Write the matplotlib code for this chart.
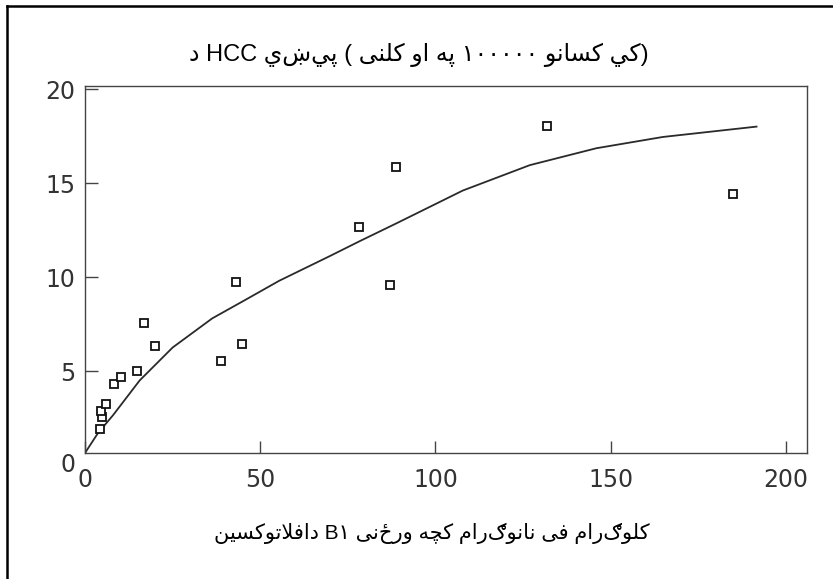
import matplotlib
matplotlib.use('Agg')
import matplotlib.pyplot as plt
from matplotlib import font_manager, ft2font
from matplotlib.lines import Line2D

# data
point_x = [4.2, 4.8, 4.5, 5.9, 8.3, 10.2, 14.9, 16.9, 20.0, 38.7, 43.2, 44.9, 78.1, 87.1, 88.8, 131.9, 184.8]
point_y = [1.9, 2.55, 2.85, 3.25, 4.3, 4.7, 5.0, 7.55, 6.35, 5.55, 9.75, 6.45, 12.65, 9.6, 15.85, 18.05, 14.4]

curve_x = [0, 3.7, 8.0, 15.6, 25.0, 36.3, 45.9, 55.4, 69.7, 78.3, 88.8, 107.8, 126.9, 145.9, 164.9, 191.6]
curve_y = [0.64, 1.7, 2.65, 4.5, 6.25, 7.8, 8.8, 9.8, 11.1, 11.9, 12.85, 14.6, 15.95, 16.85, 17.45, 18.0]

x_ticks = [0, 50, 100, 150, 200]
y_ticks = [5, 10, 15, 20]

# words in the order they appear left to right in the picture
title_words = ['د', 'HCC', 'پيښي', '(', 'کلنی', 'او', 'په', '۱۰۰۰۰۰', 'کسانو', 'کي)']
xlabel_words = ['دافلاتوکسین', 'B۱', 'ورځنی', 'کچه', 'نانوګرام', 'فی', 'کلوګرام']

# --- small arabic shaper: matplotlib neither joins letters nor runs them right to left ---
cmap = ft2font.FT2Font(font_manager.findfont('DejaVu Sans')).get_charmap()

FORMS = {
    '\u0627': [(0xFE8D, 0xFE8E, None, None)],
    '\u0628': [(0xFE8F, 0xFE90, 0xFE91, 0xFE92)],
    '\u067E': [(0xFB56, 0xFB57, 0xFB58, 0xFB59)],
    '\u062A': [(0xFE95, 0xFE96, 0xFE97, 0xFE98)],
    '\u0686': [(0xFB7A, 0xFB7B, 0xFB7C, 0xFB7D)],
    '\u062F': [(0xFEA9, 0xFEAA, None, None)],
    '\u0631': [(0xFEAD, 0xFEAE, None, None)],
    '\u0633': [(0xFEB1, 0xFEB2, 0xFEB3, 0xFEB4)],
    '\u0641': [(0xFED1, 0xFED2, 0xFED3, 0xFED4)],
    '\u06A9': [(0xFB8E, 0xFB8F, 0xFB90, 0xFB91), (0xFED9, 0xFEDA, 0xFEDB, 0xFEDC)],
    '\u0644': [(0xFEDD, 0xFEDE, 0xFEDF, 0xFEE0)],
    '\u0645': [(0xFEE1, 0xFEE2, 0xFEE3, 0xFEE4)],
    '\u0646': [(0xFEE5, 0xFEE6, 0xFEE7, 0xFEE8)],
    '\u0647': [(0xFEE9, 0xFEEA, 0xFEEB, 0xFEEC)],
    '\u0648': [(0xFEED, 0xFEEE, None, None)],
    '\u064A': [(0xFEF1, 0xFEF2, 0xFEF3, 0xFEF4)],
    '\u06CC': [(0xFBFC, 0xFBFD, 0xFBFE, 0xFBFF), (0xFEEF, 0xFEF0, 0xFEF3, 0xFEF4)],
    'LA': [(0xFEFB, 0xFEFC, None, None)],
}
LETTERS = set(FORMS) | {'\u069A', '\u0681', '\u06AB'}


def get_forms(c):
    for cand in FORMS.get(c, []):
        if all(v is None or v in cmap for v in cand):
            return cand
    return None


def dual(f):
    return f is not None and f[2] is not None and f[3] is not None


def shape(word):
    chars, i = [], 0
    while i < len(word):
        if word[i] == '\u0644' and word[i + 1:i + 2] == '\u0627':
            chars.append('LA')
            i += 2
        else:
            chars.append(word[i])
            i += 1
    out = []
    for k, c in enumerate(chars):
        f = get_forms(c)
        if f is None:
            out.append('\u0644\u0627'[::-1] if c == 'LA' else c)
            continue
        prev = get_forms(chars[k - 1]) if k > 0 else None
        nxt = get_forms(chars[k + 1]) if k + 1 < len(chars) else None
        jp = dual(prev) and f[1] is not None
        jn = dual(f) and nxt is not None and nxt[1] is not None
        code = f[3] if jp and jn else f[1] if jp else f[2] if jn else f[0]
        out.append(chr(code))
    return ''.join(out)[::-1]


def fix_digits(s):
    return ''.join(chr(ord(ch) - 0x06F0 + 0x0660) if '\u06F0' <= ch <= '\u06F9' and ord(ch) not in cmap else ch
                   for ch in s)


def visual(word):
    if not any(ch in LETTERS for ch in word):
        return fix_digits(word)
    a = 0
    while word[a] not in LETTERS:
        a += 1
    b = len(word)
    while word[b - 1] not in LETTERS:
        b -= 1
    return word[:a] + shape(word[a:b]) + word[b:]


title = ' '.join(visual(w) for w in title_words)
xlabel = ' '.join(visual(w) for w in xlabel_words)

text_fonts = ['Liberation Sans', 'DejaVu Sans']
ink = '#333333'

fig = plt.figure(figsize=(8.33, 5.79), dpi=100)
ax = fig.add_axes([85 / 833, 1 - 453 / 579, 722 / 833, 367 / 579])

ax.plot(curve_x, curve_y, color='#2a2a2a', lw=1.3)
ax.plot(point_x, point_y, linestyle='none', marker='s', markersize=6,
        markerfacecolor='white', markeredgecolor='#111111', markeredgewidth=1.3)

# the scanned axis box starts a little above zero
ax.set_xlim(0, 206)
ax.set_ylim(0.64, 20.16)
ax.set_xticks(x_ticks)
ax.set_yticks(y_ticks)
ax.tick_params(direction='in', length=9, width=1.0, color='#444444',
               labelsize=17, labelcolor=ink)
ax.tick_params(axis='x', pad=11)
ax.tick_params(axis='y', pad=7)
for lab in ax.get_xticklabels() + ax.get_yticklabels():
    lab.set_family('DejaVu Sans')
ax.annotate('0', xy=(0, 0), xycoords=('axes fraction', 'data'), xytext=(-7, 0),
            textcoords='offset points', ha='right', va='center', fontsize=17,
            color=ink, family='DejaVu Sans', annotation_clip=False)
for sp in ax.spines.values():
    sp.set_color('#444444')
    sp.set_linewidth(1.0)

fig.text(419 / 833, 1 - 55 / 579, title, ha='center', va='center',
         fontsize=17, family=text_fonts, color='black')
fig.text(432 / 833, 1 - 533 / 579, xlabel, ha='center', va='center',
         fontsize=15, family=text_fonts, color='black')

# page border (left and top edges of the scanned frame)
fig.add_artist(Line2D([7 / 833, 7 / 833], [0, 1 - 6 / 579], color='black', lw=1.8))
fig.add_artist(Line2D([7 / 833, 1], [1 - 6 / 579, 1 - 6 / 579], color='black', lw=1.8))

fig.savefig('out.png', dpi=100)
